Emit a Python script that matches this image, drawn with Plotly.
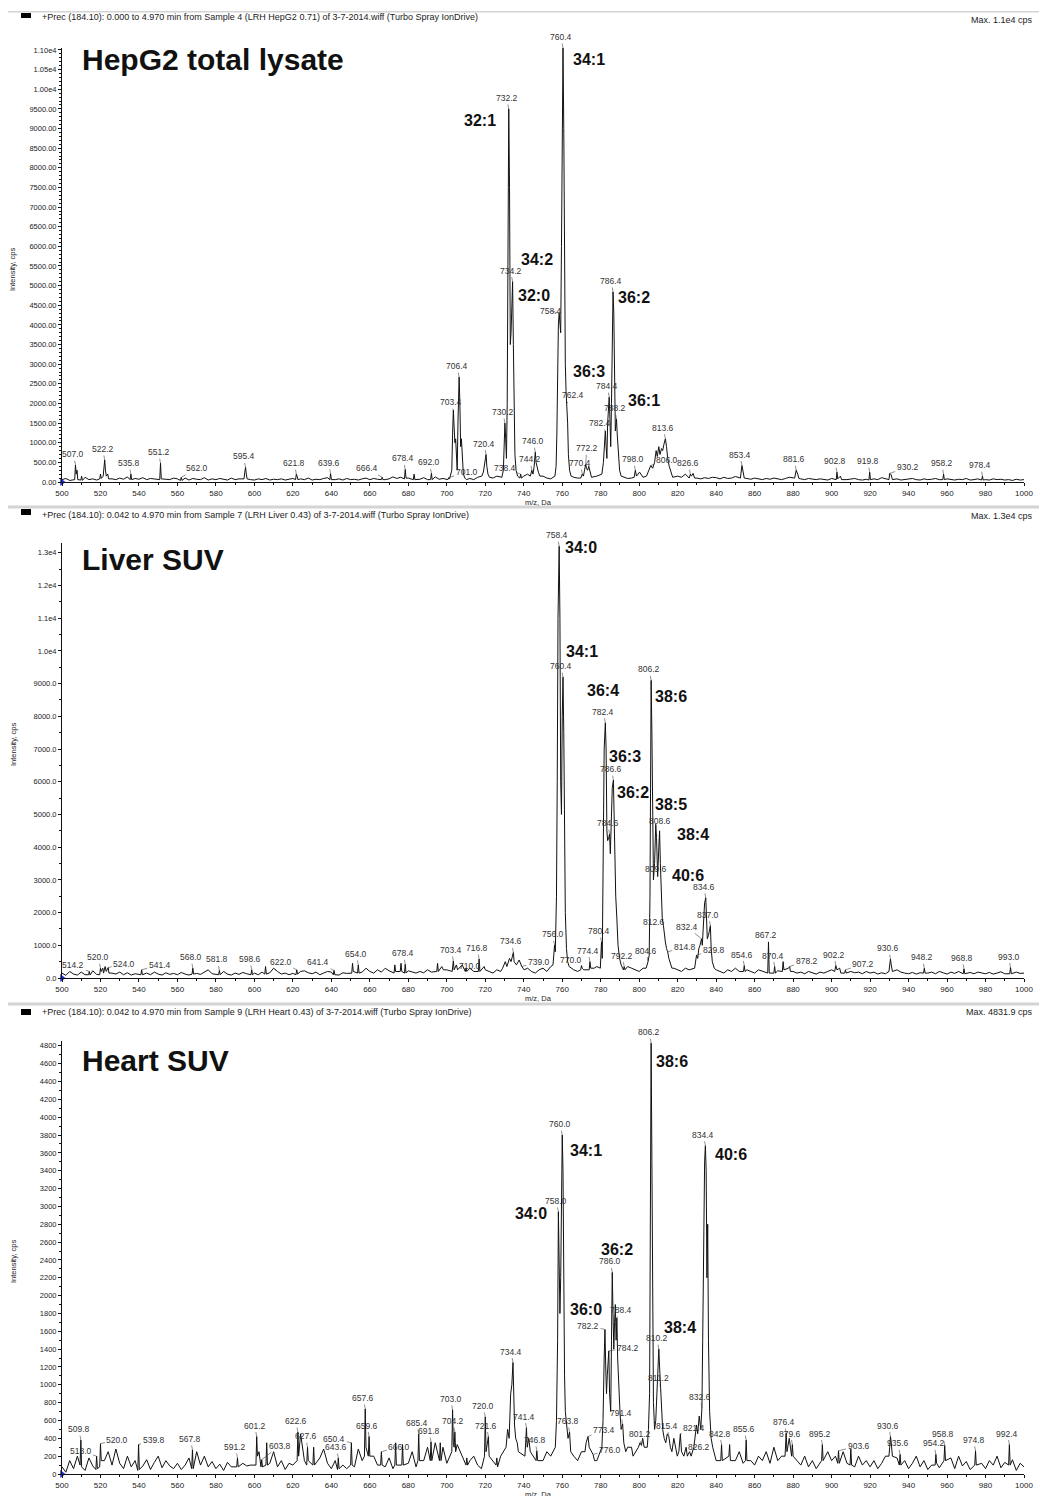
import plotly.graph_objects as go

W, H = 1039, 1496
FONT = "Liberation Sans, Arial, Helvetica, sans-serif"

# ---------------------------------------------------------------- data
NOISE_START = 500
NOISE_STEP = 2
X_TICKS = list(range(500, 1001, 20))

# ---- HepG2 total lysate
hepg2_header = "+Prec (184.10): 0.000 to 4.970 min from Sample 4 (LRH HepG2 0.71) of 3-7-2014.wiff (Turbo Spray IonDrive)"
hepg2_max = "Max. 1.1e4 cps"
hepg2_title = "HepG2 total lysate"
hepg2_noise = [
    60, 90, 40, 110, 70, 50, 120, 60, 80, 50,
    140, 90, 160, 80, 60, 100, 70, 130, 60, 90,
    70, 110, 60, 90, 80, 50, 130, 70, 60, 100,
    80, 60, 100, 50, 90, 70, 60, 110, 50, 80,
    60, 90, 70, 50, 100, 60, 80, 140, 90, 60,
    50, 80, 60, 90, 50, 70, 60, 80, 50, 70,
    90, 120, 80, 60, 100, 50, 70, 60, 90, 110,
    70, 60, 80, 50, 90, 60, 70, 50, 80, 100,
    60, 90, 70, 110, 60, 80, 130, 90, 120, 150,
    100, 160, 90, 70, 110, 60, 80, 130, 70, 90,
    150, 120, 200, 260, 300, 280, 90, 60, 120, 150,
    250, 120, 100, 150, 120, 200, 200, 200, 200, 100,
    150, 200, 300, 300, 300, 150, 100, 80, 150, 300,
    300, 300, 300, 120, 100, 200, 200, 200, 120, 150,
    300, 300, 300, 300, 300, 300, 120, 90, 100, 200,
    250, 200, 150, 300, 400, 400, 500, 600, 500, 200,
    150, 120, 200, 200, 200, 100, 80, 110, 90, 120,
    110, 80, 120, 90, 100, 140, 110, 160, 90, 70,
    100, 80, 60, 90, 70, 100, 80, 60, 90, 120,
    150, 110, 80, 60, 90, 70, 60, 80, 70, 50,
    90, 140, 110, 80, 60, 70, 90, 60, 50, 70,
    100, 80, 60, 110, 90, 70, 60, 80, 50, 60,
    70, 90, 60, 50, 80, 60, 70, 90, 60, 110,
    80, 60, 50, 70, 60, 90, 50, 60, 80, 70,
    60, 50, 80, 60, 70, 50, 60, 40, 70, 50,
    60,
]
hepg2_peaks = [
    (506.6, 60), (507.0, 430), (507.4, 200), (507.8, 300), (508.2, 60),
    (509.8, 50), (510.2, 150), (510.6, 40),
    (519.6, 80), (520.0, 200), (520.4, 90), (521.4, 150), (521.8, 350), (522.2, 560),
    (522.6, 300), (523.0, 150), (523.8, 200), (524.2, 80),
    (535.4, 60), (535.8, 200), (536.2, 60),
    (550.8, 60), (551.2, 480), (551.6, 80),
    (561.6, 40), (562.0, 120), (562.4, 40),
    (594.6, 80), (595.0, 250), (595.4, 370), (595.8, 200), (596.2, 80),
    (621.4, 60), (621.8, 200), (622.2, 150), (622.6, 60),
    (639.2, 60), (639.6, 210), (640.0, 60),
    (666.0, 60), (666.4, 120), (666.8, 60),
    (678.0, 80), (678.4, 320), (678.8, 100),
    (682.6, 60), (683.0, 200), (683.4, 60),
    (691.6, 60), (692.0, 220), (692.4, 60),
    (700.6, 60), (701.0, 110), (701.4, 80), (701.8, 150), (702.6, 300), (703.0, 1200),
    (703.4, 1830), (703.8, 1400), (704.2, 1000), (704.6, 1100), (705.0, 400), (705.4, 300),
    (705.8, 1500), (706.2, 2500), (706.4, 2670), (706.8, 2000), (707.2, 900), (707.6, 1100),
    (708.0, 600), (708.6, 200), (709.4, 100), (710.2, 60),
    (718.2, 150), (719.0, 250), (719.6, 400), (720.0, 550), (720.4, 700), (720.8, 400),
    (721.4, 200), (722.2, 120),
    (728.6, 120), (729.4, 300), (729.8, 900), (730.2, 1500), (730.6, 1100), (731.0, 600),
    (731.4, 2000), (731.8, 7200), (732.2, 9500), (732.6, 7500), (733.0, 3500), (733.4, 3800),
    (733.8, 4700), (734.2, 5100), (734.6, 3500), (735.0, 1500), (735.4, 700), (736.0, 300),
    (736.8, 150), (738.0, 100), (738.4, 200), (738.8, 100),
    (743.4, 150), (744.2, 300), (744.8, 200), (745.4, 400), (746.0, 760), (746.4, 500),
    (747.0, 350), (747.6, 250), (748.4, 150),
    (756.2, 150), (756.8, 400), (757.2, 1200), (757.6, 3000), (758.0, 4000), (758.4, 4300),
    (758.8, 4000), (759.2, 3800), (759.6, 6000), (760.0, 9500), (760.4, 11050), (760.8, 9000),
    (761.2, 5000), (761.6, 3000), (762.0, 2300), (762.4, 2000), (762.8, 1500), (763.2, 700),
    (763.8, 300), (764.6, 150),
    (769.6, 100), (770.4, 200), (771.0, 150), (771.6, 300), (772.2, 450), (772.6, 350),
    (773.2, 300), (773.8, 400), (774.4, 250), (775.2, 120),
    (780.6, 200), (781.4, 500), (782.0, 1000), (782.4, 1300), (782.8, 900), (783.2, 600),
    (783.6, 1500), (784.0, 2100), (784.4, 2160), (784.8, 1600), (785.2, 900), (785.6, 2000),
    (786.0, 4000), (786.4, 4840), (786.8, 4300), (787.2, 2500), (787.6, 1300), (788.0, 1500),
    (788.2, 1600), (788.6, 1200), (789.2, 600), (789.8, 300), (790.6, 150),
    (797.4, 120), (798.0, 300), (798.6, 150), (800.2, 250), (801.0, 200), (802.0, 120),
    (803.8, 150), (805.0, 300), (806.0, 420), (807.0, 350), (808.0, 500), (808.8, 800),
    (809.4, 650), (810.2, 900), (810.8, 700), (811.6, 850), (812.2, 800), (812.8, 950),
    (813.6, 1100), (814.2, 900), (814.8, 600), (815.6, 400), (816.4, 250), (817.4, 120),
    (826.0, 100), (826.6, 200), (827.2, 150), (828.0, 220), (828.8, 100),
    (852.6, 100), (853.4, 420), (854.0, 200), (854.6, 100),
    (880.8, 100), (881.6, 300), (882.4, 200), (883.0, 90),
    (902.4, 60), (902.8, 250), (903.2, 80), (904.6, 150), (905.2, 60),
    (919.4, 50), (919.8, 250), (920.2, 60),
    (929.8, 60), (930.2, 220), (931.0, 180), (931.6, 60),
    (957.8, 60), (958.2, 200), (958.6, 60),
    (978.0, 50), (978.4, 150), (978.8, 50),
]
hepg2_mz_labels = [
    507.0, 522.2, 535.8, 551.2, 562.0, 595.4, 621.8, 639.6, 666.4, 678.4, 692.0,
    701.0, 703.4, 706.4, 720.4, 730.2, 732.2, 734.2, 738.4, 744.2, 746.0, 758.4,
    760.4, 762.4, 770.4, 772.2, 782.4, 784.4, 786.4, 788.2, 798.0, 806.0, 813.6,
    826.6, 853.4, 881.6, 902.8, 919.8, 930.2, 958.2, 978.4,
]
hepg2_lipids = ["34:1", "32:1", "34:2", "32:0", "36:2", "36:3", "36:1"]
hepg2_yticks = list(range(0, 11001, 500))

# ---- Liver SUV
liver_header = "+Prec (184.10): 0.042 to 4.970 min from Sample 7 (LRH Liver 0.43) of 3-7-2014.wiff (Turbo Spray IonDrive)"
liver_max = "Max. 1.3e4 cps"
liver_title = "Liver SUV"
liver_noise = [
    150, 80, 200, 120, 90, 180, 100, 140, 220, 110,
    300, 250, 200, 150, 120, 180, 100, 160, 90, 130,
    110, 200, 150, 100, 180, 120, 90, 160, 110, 140,
    100, 170, 120, 90, 200, 140, 110, 180, 250, 130,
    100, 160, 200, 120, 90, 150, 110, 170, 130, 200,
    150, 100, 180, 250, 160, 300, 200, 120, 150, 100,
    140, 110, 200, 220, 160, 130, 180, 100, 150, 200,
    180, 120, 90, 160, 140, 200, 150, 230, 180, 300,
    200, 150, 250, 180, 300, 220, 160, 250, 200, 300,
    220, 180, 150, 200, 160, 250, 180, 200, 150, 300,
    250, 350, 300, 200, 400, 250, 300, 200, 350, 250,
    300, 200, 150, 250, 200, 150, 250, 350, 400, 450,
    350, 300, 200, 150, 250, 300, 200, 350, 400, 500,
    400, 350, 300, 250, 200, 250, 300, 200, 250, 350,
    500, 600, 700, 800, 900, 800, 500, 350, 300, 250,
    200, 300, 350, 400, 500, 600, 800, 900, 900, 300,
    250, 200, 300, 250, 350, 200, 400, 500, 600, 400,
    250, 200, 150, 250, 200, 300, 200, 150, 250, 200,
    150, 250, 200, 180, 150, 200, 220, 160, 200, 250,
    200, 150, 180, 130, 200, 160, 120, 180, 150, 200,
    250, 200, 300, 180, 150, 200, 160, 180, 130, 200,
    150, 180, 120, 160, 130, 200, 350, 250, 180, 150,
    130, 170, 120, 160, 200, 150, 180, 130, 200, 160,
    120, 180, 140, 200, 150, 120, 170, 130, 180, 150,
    130, 170, 120, 150, 190, 130, 160, 120, 180, 140,
    150,
]
liver_peaks = [
    (513.8, 100), (514.2, 200), (514.6, 90),
    (519.6, 100), (520.0, 300), (520.4, 200), (521.2, 300), (521.6, 150), (522.4, 350),
    (523.0, 200), (524.0, 320), (524.4, 150),
    (541.0, 100), (541.4, 250), (541.8, 100),
    (567.6, 120), (568.0, 300), (568.4, 120),
    (581.4, 100), (581.8, 230), (582.2, 100),
    (598.2, 100), (598.6, 250), (599.0, 100),
    (605.4, 120), (605.8, 350), (606.2, 120),
    (621.6, 100), (622.0, 250), (622.4, 120),
    (641.0, 100), (641.4, 230), (641.8, 100),
    (650.6, 150), (651.0, 450), (651.4, 200),
    (653.6, 150), (654.0, 400), (654.4, 150),
    (672.6, 150), (673.0, 400), (673.4, 200), (675.8, 200), (676.2, 450), (676.6, 200),
    (678.0, 150), (678.4, 420), (678.8, 150),
    (694.8, 200), (695.2, 450), (695.6, 200), (697.4, 350), (698.2, 250),
    (702.8, 200), (703.4, 520), (703.8, 250), (705.0, 400), (705.6, 250),
    (709.6, 200), (710.0, 300), (710.4, 200),
    (716.4, 200), (716.8, 580), (717.2, 200), (719.4, 350), (720.0, 250),
    (729.0, 300), (730.4, 500), (731.2, 350), (732.6, 600), (733.4, 500), (734.2, 650),
    (734.6, 780), (735.0, 500), (736.2, 400), (737.6, 550), (738.4, 400), (739.0, 350),
    (740.2, 250),
    (755.2, 400), (756.0, 1000), (756.4, 800), (757.0, 2500), (757.4, 6000), (757.8, 11000),
    (758.4, 13200), (758.8, 11000), (759.2, 6000), (759.6, 5000), (760.0, 8000), (760.4, 9200),
    (760.8, 7500), (761.2, 4000), (761.6, 2000), (762.2, 900), (762.8, 500), (763.6, 350),
    (769.6, 250), (770.0, 380), (770.4, 300), (771.2, 250),
    (774.0, 250), (774.4, 500), (774.8, 300), (776.6, 300),
    (779.8, 300), (780.4, 1100), (780.8, 600), (781.4, 3500), (781.8, 7000), (782.4, 7800),
    (782.8, 7000), (783.2, 4500), (783.6, 4200), (784.2, 4300), (784.6, 4400), (785.0, 3800),
    (785.6, 5000), (786.0, 5800), (786.6, 6050), (787.0, 4500), (787.4, 3200), (787.8, 2500),
    (788.4, 1800), (789.0, 1000), (789.8, 600), (790.6, 400),
    (791.8, 250), (792.2, 350), (792.6, 250),
    (803.6, 300), (804.6, 500), (805.2, 700), (805.6, 2500), (806.0, 8000), (806.2, 9100),
    (806.6, 7500), (807.0, 4500), (807.4, 3000), (808.0, 3500), (808.6, 4700), (809.0, 4300),
    (809.6, 3100), (810.2, 4000), (810.6, 4500), (811.0, 3500), (811.6, 2000), (812.0, 1800),
    (812.6, 1600), (813.0, 1300), (813.6, 1100), (814.2, 900), (814.8, 800), (815.4, 600),
    (816.2, 400), (817.0, 300),
    (828.8, 300), (829.8, 700), (830.4, 600), (831.0, 900), (831.6, 1000), (832.4, 1200),
    (832.8, 1000), (833.4, 1800), (834.0, 2300), (834.6, 2450), (835.0, 1800), (835.4, 1200),
    (836.0, 1300), (836.6, 1550), (837.0, 1600), (837.4, 900), (838.0, 500), (839.0, 300),
    (854.2, 200), (854.6, 380), (855.0, 200),
    (866.8, 150), (867.2, 1100), (867.6, 150),
    (870.0, 150), (870.4, 350), (870.8, 150),
    (874.4, 200), (874.8, 500), (875.2, 250), (877.6, 300), (878.2, 350), (878.6, 200),
    (901.6, 200), (902.2, 380), (902.8, 250), (904.2, 300), (904.8, 150),
    (906.8, 150), (907.2, 250), (907.6, 150),
    (929.8, 200), (930.2, 400), (930.6, 580), (931.0, 400), (931.6, 200),
    (947.8, 150), (948.2, 300), (948.6, 150),
    (968.4, 130), (968.8, 280), (969.2, 130),
    (992.6, 130), (993.0, 320), (993.4, 130),
]
liver_mz_labels = [
    514.2, 520.0, 524.0, 541.4, 568.0, 581.8, 598.6, 622.0, 641.4, 654.0, 678.4,
    703.4, 710.0, 716.8, 734.6, 739.0, 756.0, 758.4, 760.4, 770.0, 774.4, 780.4,
    782.4, 784.6, 786.6, 792.2, 804.6, 806.2, 808.6, 809.6, 812.6, 814.8, 829.8,
    832.4, 834.6, 837.0, 854.6, 867.2, 870.4, 878.2, 902.2, 907.2, 930.6, 948.2,
    968.8, 993.0,
]
liver_lipids = ["34:0", "34:1", "36:4", "38:6", "36:3", "36:2", "38:5", "38:4", "40:6"]
liver_yticks = list(range(0, 13001, 1000))

# ---- Heart SUV
heart_header = "+Prec (184.10): 0.042 to 4.970 min from Sample 9 (LRH Heart 0.43) of 3-7-2014.wiff (Turbo Spray IonDrive)"
heart_max = "Max. 4831.9 cps"
heart_title = "Heart SUV"
heart_noise = [
    80, 20, 150, 60, 200, 100, 40, 180, 90, 300,
    320, 150, 250, 100, 280, 120, 60, 200, 80, 150,
    280, 90, 160, 50, 130, 200, 70, 150, 90, 60,
    120, 50, 100, 180, 60, 250, 100, 200, 80, 140,
    60, 110, 40, 130, 80, 150, 50, 120, 90, 100,
    150, 380, 200, 300, 120, 250, 80, 150, 50, 120,
    100, 200, 450, 150, 250, 120, 300, 180, 280, 120,
    60, 150, 40, 100, 60, 200, 80, 280, 150, 300,
    350, 200, 100, 250, 80, 180, 60, 150, 100, 300,
    120, 250, 80, 400, 150, 300, 100, 350, 200, 300,
    120, 250, 600, 450, 200, 250, 150, 200, 100, 60,
    550, 300, 150, 100, 200, 80, 150, 200, 350, 500,
    450, 350, 300, 250, 200, 150, 250, 200, 150, 350,
    300, 400, 350, 200, 150, 250, 200, 300, 350, 150,
    250, 400, 1000, 600, 700, 1000, 1200, 300, 150, 350,
    200, 250, 300, 350, 250, 400, 900, 1400, 700, 400,
    250, 300, 200, 350, 250, 300, 200, 500, 600, 700,
    150, 250, 300, 100, 200, 150, 250, 120, 200, 150,
    100, 200, 150, 250, 120, 300, 150, 200, 350, 400,
    250, 150, 100, 200, 80, 150, 60, 200, 100, 250,
    150, 200, 100, 250, 120, 180, 80, 200, 100, 150,
    80, 150, 60, 120, 200, 100, 50, 180, 90, 150,
    60, 120, 200, 80, 150, 50, 100, 180, 70, 250,
    120, 180, 60, 200, 90, 140, 50, 160, 80, 120,
    60, 150, 100, 200, 70, 130, 90, 160, 40, 120,
    80,
]
heart_peaks = [
    (509.4, 100), (509.8, 380), (510.2, 80),
    (517.6, 50), (518.0, 200), (518.4, 60),
    (519.6, 80), (520.0, 340), (520.4, 150),
    (539.4, 40), (539.8, 330), (540.2, 50),
    (567.4, 60), (567.8, 270), (568.2, 60),
    (590.8, 80), (591.2, 180), (591.6, 80),
    (600.8, 100), (601.2, 420), (601.6, 200), (602.4, 250),
    (603.4, 80), (603.8, 160), (604.2, 80),
    (606.0, 100), (606.4, 350), (606.8, 100),
    (622.2, 150), (622.6, 470), (623.0, 200),
    (627.2, 100), (627.6, 300), (628.0, 150),
    (630.4, 100), (630.8, 300), (631.2, 100),
    (643.2, 50), (643.6, 180), (644.0, 60),
    (650.0, 100), (650.4, 350), (650.8, 100),
    (657.2, 200), (657.6, 730), (658.0, 300),
    (659.2, 200), (659.6, 420), (660.0, 200),
    (665.6, 100), (666.0, 250), (666.4, 100),
    (673.0, 100), (673.4, 350), (673.8, 100), (676.6, 100), (677.0, 330), (677.4, 100),
    (685.0, 150), (685.4, 450), (685.8, 150),
    (691.4, 150), (691.8, 360), (692.2, 150),
    (696.2, 150), (696.6, 350), (697.0, 150),
    (702.6, 250), (703.0, 720), (703.4, 350), (703.8, 300), (704.2, 470), (704.6, 250),
    (705.4, 330), (706.4, 280),
    (710.0, 100), (710.4, 180), (710.8, 100),
    (719.6, 200), (720.0, 640), (720.4, 250), (721.6, 420), (722.0, 200),
    (725.6, 100), (726.0, 180), (726.4, 80),
    (730.8, 300), (731.6, 500), (732.4, 400), (733.2, 900), (733.8, 1000), (734.4, 1250),
    (734.8, 800), (735.2, 550), (735.8, 400), (736.6, 350), (737.2, 250),
    (740.6, 200), (741.0, 350), (741.4, 520), (741.8, 300), (742.6, 400), (743.4, 250),
    (746.4, 150), (746.8, 260), (747.2, 150),
    (756.4, 300), (757.0, 600), (757.6, 1500), (758.0, 2940), (758.4, 2500), (758.8, 1800),
    (759.2, 2200), (759.6, 3300), (760.0, 3800), (760.4, 3400), (760.8, 2000), (761.2, 1100),
    (761.6, 700), (762.4, 500), (763.0, 400), (763.8, 470), (764.4, 250),
    (771.8, 250), (772.4, 350), (773.4, 420), (774.0, 300), (775.0, 250), (776.0, 220),
    (776.8, 150),
    (780.6, 300), (781.2, 600), (781.8, 1300), (782.2, 1620), (782.6, 1200), (783.0, 900),
    (783.4, 1100), (784.0, 1300), (784.2, 1380), (784.6, 900), (785.2, 700), (785.6, 1500),
    (786.0, 2260), (786.4, 1800), (786.8, 1400), (787.2, 1700), (787.6, 1900), (788.0, 1500),
    (788.4, 1750), (788.8, 1300), (789.4, 900), (790.0, 700), (790.6, 500), (791.4, 560),
    (792.0, 350), (793.0, 250),
    (796.0, 300), (796.8, 200), (798.2, 250), (799.6, 300), (800.4, 350), (801.2, 320),
    (801.8, 400), (802.6, 300),
    (804.2, 300), (804.8, 500), (805.4, 900), (805.8, 2500), (806.2, 4830), (806.6, 3500),
    (807.0, 1600), (807.4, 800), (808.0, 500), (808.6, 600), (809.2, 900), (809.6, 1200),
    (810.2, 1400), (810.6, 1200), (811.2, 950), (811.6, 700), (812.2, 500), (813.0, 400),
    (813.8, 350), (814.6, 450), (815.4, 420), (816.2, 300), (817.0, 250),
    (819.8, 200), (820.6, 250), (821.4, 450), (822.0, 250), (823.2, 200), (824.4, 300),
    (825.0, 200), (826.2, 250), (827.0, 200), (828.4, 300), (829.0, 400), (829.8, 550),
    (830.4, 450), (831.2, 650), (832.0, 500), (832.6, 740), (833.0, 1500), (833.6, 3000),
    (834.0, 3500), (834.4, 3680), (834.8, 3400), (835.2, 2200), (835.6, 2800), (836.0, 1500),
    (836.6, 700), (837.4, 400), (838.2, 300),
    (842.4, 150), (842.8, 330), (843.2, 150),
    (846.6, 200), (847.0, 330), (847.4, 150),
    (855.2, 150), (855.6, 380), (856.0, 150),
    (875.8, 200), (876.4, 460), (876.8, 250), (879.2, 200), (879.6, 330), (880.0, 200),
    (894.8, 150), (895.2, 330), (895.6, 150),
    (903.2, 120), (903.6, 260), (904.0, 120),
    (909.6, 100), (910.0, 280), (910.4, 100),
    (929.8, 200), (930.2, 300), (930.6, 420), (931.0, 350), (931.6, 200),
    (935.2, 100), (935.6, 220), (936.0, 100),
    (953.8, 100), (954.2, 220), (954.6, 120),
    (958.4, 150), (958.8, 320), (959.2, 150),
    (974.4, 100), (974.8, 260), (975.2, 100),
    (992.0, 100), (992.4, 330), (992.8, 100),
]
heart_mz_labels = [
    509.8, 518.0, 520.0, 539.8, 567.8, 591.2, 601.2, 603.8, 622.6, 627.6, 643.6,
    650.4, 657.6, 659.6, 666.0, 685.4, 691.8, 703.0, 704.2, 720.0, 721.6, 734.4,
    741.4, 746.8, 758.0, 760.0, 763.8, 773.4, 776.0, 782.2, 784.2, 786.0, 788.4,
    791.4, 801.2, 806.2, 810.2, 811.2, 815.4, 821.4, 826.2, 832.6, 834.4, 842.8,
    855.6, 876.4, 879.6, 895.2, 903.6, 930.6, 935.6, 954.2, 958.8, 974.8, 992.4,
]
heart_lipids = ["38:6", "34:1", "40:6", "34:0", "36:2", "36:0", "38:4"]
heart_yticks = list(range(0, 4801, 200))

# ---------------------------------------------------------------- layout (page pixels)
X_LEFT_PX, X_RIGHT_PX = 62, 1024
DEFAULT_LABEL_OFFSET = (-2, -11)
# label text offsets (px) where the instrument software moved a label sideways
hepg2_label_offsets = {562.0: (16, -9), 666.4: (-15, -9), 701.0: (18, -6), 703.4: (-2, -8),
                       738.4: (-16, -6), 758.4: (-8, -2), 762.4: (6, -8), 772.2: (1, -16),
                       782.4: (-5, -8), 806.0: (16, -6), 930.2: (18, -6)}
liver_label_offsets = {514.2: (-16, -6), 524.0: (16, -4), 541.4: (18, -5), 622.0: (-16, -8),
                       641.4: (-16, -8), 710.0: (4, -2), 739.0: (17, -5), 770.0: (-10, -6),
                       808.6: (4, -3), 809.6: (-2, -8), 812.6: (-9, -4), 814.8: (17, -5),
                       829.8: (17, -5), 832.4: (-15, -12), 867.2: (-2, -7), 878.2: (17, -6),
                       907.2: (18, -6)}
heart_label_offsets = {518.0: (-16, -5), 520.0: (17, -4), 539.8: (15, -5), 603.8: (18, -14),
                       650.4: (-17, -4), 666.0: (18, -5), 773.4: (16, -7), 776.0: (17, -4),
                       782.2: (-17, -4), 784.2: (19, -3), 788.4: (4, -8), 821.4: (14, -6),
                       826.2: (9, -5), 903.6: (20, -5)}

PANELS = [
    dict(noise=hepg2_noise, peaks=hepg2_peaks, labels=hepg2_mz_labels, lipids=hepg2_lipids,
         offsets=hepg2_label_offsets,
         header=hepg2_header, maxtxt=hepg2_max, title=hepg2_title, yticks=hepg2_yticks,
         fmt="hepg2", ymax=11050, bottom_px=482, top_px=48, minor=100,
         header_y=17, max_y=20, sq_y=(13, 18), ytitle_y=270, xtitle_y=502,
         title_pos=(509.3, 10750),
         lipid_pos=[(774.1, 10746), (717.0, 9193), (747.1, 5653), (745.1, 4736),
                    (797.5, 4685), (774.1, 2801), (802.7, 2063)]),
    dict(noise=liver_noise, peaks=liver_peaks, labels=liver_mz_labels, lipids=liver_lipids,
         offsets=liver_label_offsets,
         header=liver_header, maxtxt=liver_max, title=liver_title, yticks=liver_yticks,
         fmt="liver", ymax=13300, bottom_px=978, top_px=543, minor=500,
         header_y=515, max_y=516, sq_y=(509, 515), ytitle_y=745, xtitle_y=998,
         title_pos=(509.3, 12783),
         lipid_pos=[(769.5, 13150), (770.5, 9969), (781.4, 8777), (816.7, 8593),
                    (792.8, 6758), (797.0, 5657), (816.7, 5290), (828.1, 4373),
                    (825.5, 3119)]),
    dict(noise=heart_noise, peaks=heart_peaks, labels=heart_mz_labels, lipids=heart_lipids,
         offsets=heart_label_offsets,
         header=heart_header, maxtxt=heart_max, title=heart_title, yticks=heart_yticks,
         fmt="heart", ymax=4860, bottom_px=1474, top_px=1040.5, minor=100,
         header_y=1012, max_y=1012, sq_y=(1009, 1015), ytitle_y=1262, xtitle_y=1494,
         title_pos=(509.3, 4641),
         lipid_pos=[(817.2, 4630), (772.6, 3632), (847.9, 3587), (744.0, 2915),
                    (788.2, 2522), (772.1, 1839), (821.4, 1637)]),
]
SEPARATORS_PX = [(11, 12.5), (505.5, 508.5), (1002.5, 1005.5)]


def pxx(x):
    return x / W


def pxy(y):
    return 1 - y / H


def tick_text(v, fmt):
    if fmt == "hepg2":
        return f"{v:.2f}" if v < 10000 else f"{v / 1e4:.2f}e4"
    if fmt == "liver":
        return f"{v:.1f}" if v < 10000 else f"{v / 1e4:.1f}e4"
    return str(v)


def build_profile(noise, peaks):
    pk = sorted(peaks)
    pmz = [p[0] for p in pk]
    pts = list(pk)
    for i, v in enumerate(noise):
        g = NOISE_START + i * NOISE_STEP
        if min(abs(g - m) for m in pmz) >= 0.9:
            pts.append((g, v))
    pts.sort()
    return [p[0] for p in pts], [p[1] for p in pts]


fig = go.Figure()
annotations = []
shapes = []
layout_axes = {}

for i, P in enumerate(PANELS):
    n = i + 1
    xa = "x" if n == 1 else f"x{n}"
    ya = "y" if n == 1 else f"y{n}"
    xs, ys = build_profile(P["noise"], P["peaks"])
    fig.add_trace(go.Scatter(x=xs, y=ys, mode="lines", xaxis=xa, yaxis=ya,
                             line=dict(color="#111111", width=1), hoverinfo="skip"))
    fig.add_trace(go.Scatter(x=[500], y=[0], mode="markers", xaxis=xa, yaxis=ya,
                             marker=dict(symbol="triangle-right", size=7, color="#2233dd"),
                             cliponaxis=False, hoverinfo="skip"))

    dom_y = [pxy(P["bottom_px"]), pxy(P["top_px"])]
    layout_axes["xaxis" if n == 1 else f"xaxis{n}"] = dict(
        domain=[pxx(X_LEFT_PX), pxx(X_RIGHT_PX)], range=[500, 1000], anchor=ya,
        tickmode="array", tickvals=X_TICKS, ticktext=[str(t) for t in X_TICKS],
        ticks="outside", ticklen=3, tickcolor="#111", showline=True, linecolor="#111",
        linewidth=1, showgrid=False, zeroline=False, automargin=False,
        tickfont=dict(family=FONT, size=8, color="#222"),
        minor=dict(tickmode="linear", tick0=500, dtick=10, ticks="outside", ticklen=2,
                   tickcolor="#111"))
    layout_axes["yaxis" if n == 1 else f"yaxis{n}"] = dict(
        domain=dom_y, range=[0, P["ymax"]], anchor=xa,
        tickmode="array", tickvals=P["yticks"],
        ticktext=[tick_text(v, P["fmt"]) for v in P["yticks"]],
        ticks="outside", ticklen=3, tickcolor="#111", showline=True, linecolor="#111",
        linewidth=1, showgrid=False, zeroline=False, automargin=False,
        tickfont=dict(family=FONT, size=7.5, color="#222"),
        minor=dict(tickmode="linear", tick0=0, dtick=P["minor"], ticks="outside",
                   ticklen=2, tickcolor="#111"))

    lookup = dict(P["peaks"])
    for m in P["labels"]:
        ax, ay = P["offsets"].get(m, DEFAULT_LABEL_OFFSET)
        annotations.append(dict(
            x=m, y=lookup[m], xref=xa, yref=ya, text=f"{m:.1f}", showarrow=True,
            arrowhead=0, arrowwidth=0.6, arrowcolor="#444", ax=ax, ay=ay,
            font=dict(family=FONT, size=8.5, color="#333")))
    for txt, (lx, ly) in zip(P["lipids"], P["lipid_pos"]):
        annotations.append(dict(
            x=lx, y=ly, xref=xa, yref=ya, text=f"<b>{txt}</b>", showarrow=False,
            font=dict(family=FONT, size=16, color="#111")))
    annotations.append(dict(
        x=P["title_pos"][0], y=P["title_pos"][1], xref=xa, yref=ya, xanchor="left",
        text=f"<b>{P['title']}</b>", showarrow=False,
        font=dict(family=FONT, size=30, color="#111")))

    annotations.append(dict(x=pxx(40), y=pxy(P["header_y"]), xref="paper", yref="paper",
                            xanchor="left", yanchor="middle", text=P["header"],
                            showarrow=False, font=dict(family=FONT, size=9, color="#222")))
    annotations.append(dict(x=pxx(1035), y=pxy(P["max_y"]), xref="paper", yref="paper",
                            xanchor="right", yanchor="middle", text=P["maxtxt"],
                            showarrow=False, font=dict(family=FONT, size=9, color="#222")))
    annotations.append(dict(x=pxx(13), y=pxy(P["ytitle_y"]), xref="paper", yref="paper",
                            xanchor="center", yanchor="middle", text="Intensity, cps",
                            textangle=-90, showarrow=False,
                            font=dict(family=FONT, size=7.5, color="#222")))
    annotations.append(dict(x=pxx(538), y=pxy(P["xtitle_y"]), xref="paper", yref="paper",
                            xanchor="center", yanchor="middle", text="m/z, Da",
                            showarrow=False, font=dict(family=FONT, size=7.5, color="#222")))
    shapes.append(dict(type="rect", xref="paper", yref="paper",
                       x0=pxx(21), x1=pxx(31), y0=pxy(P["sq_y"][1]), y1=pxy(P["sq_y"][0]),
                       fillcolor="#000", line=dict(width=0)))

for (a, b) in SEPARATORS_PX:
    shapes.append(dict(type="rect", xref="paper", yref="paper", x0=pxx(8), x1=1,
                       y0=pxy(b), y1=pxy(a), fillcolor="#d4d4d4", line=dict(width=0)))

fig.update_layout(
    width=W, height=H, autosize=False, margin=dict(l=0, r=0, t=0, b=0, pad=0),
    paper_bgcolor="white", plot_bgcolor="white", showlegend=False,
    annotations=annotations, shapes=shapes, **layout_axes)

POST = ("document.documentElement.style.margin='0';"
        "document.documentElement.style.overflow='hidden';"
        "document.body.style.margin='0';document.body.style.padding='0';"
        "document.body.style.overflow='hidden';"
        "var d=document.getElementById('{plot_id}');"
        "d.style.position='absolute';d.style.left='0px';d.style.top='0px';")

fig.write_html("out.html", config={"displayModeBar": False, "responsive": False},
               post_script=POST)
